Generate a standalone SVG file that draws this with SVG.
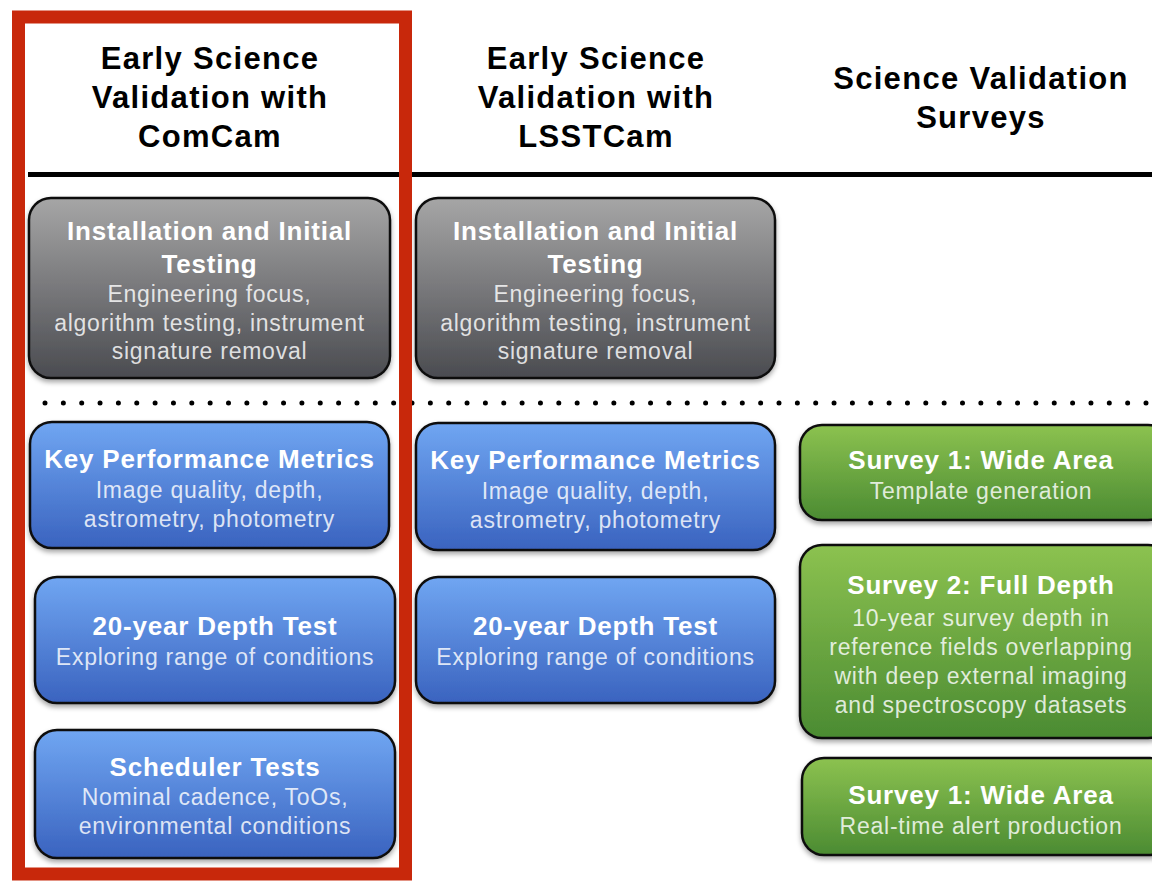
<svg xmlns="http://www.w3.org/2000/svg" width="1152" height="881" viewBox="0 0 1152 881">
<defs>
<linearGradient id="gGray" x1="0" y1="0" x2="0" y2="1"><stop offset="0" stop-color="#a6a6a6"/><stop offset="1" stop-color="#4a4b50"/></linearGradient>
<linearGradient id="gBlue" x1="0" y1="0" x2="0" y2="1"><stop offset="0" stop-color="#70a6f2"/><stop offset="1" stop-color="#3a63bf"/></linearGradient>
<linearGradient id="gGreen" x1="0" y1="0" x2="0" y2="1"><stop offset="0" stop-color="#8cc250"/><stop offset="1" stop-color="#4b8b32"/></linearGradient>
<filter id="sh" x="-10%" y="-10%" width="120%" height="130%"><feDropShadow dx="0" dy="3" stdDeviation="2.5" flood-color="#000" flood-opacity="0.35"/></filter>
</defs>
<style>
.hdr{font-family:"Liberation Sans",Arial,sans-serif;font-weight:bold;font-size:31px;letter-spacing:1.3px;fill:#000;text-anchor:middle}
.box{stroke:#111;stroke-width:2.5;filter:url(#sh)}
.t{font-family:"Liberation Sans",Arial,sans-serif;font-weight:bold;font-size:26px;letter-spacing:0.8px;fill:#fff;text-anchor:middle}
.s{font-family:"Liberation Sans",Arial,sans-serif;font-size:23px;letter-spacing:0.75px;fill:#fff;fill-opacity:0.82;text-anchor:middle}
</style>
<rect width="1152" height="881" fill="#fff"/>
<g id="headers">
<text class="hdr" x="210" y="69">Early Science</text>
<text class="hdr" x="210" y="108">Validation with</text>
<text class="hdr" x="210" y="147">ComCam</text>
<text class="hdr" x="596" y="69">Early Science</text>
<text class="hdr" x="596" y="108">Validation with</text>
<text class="hdr" x="596" y="147">LSSTCam</text>
<text class="hdr" x="981" y="89">Science Validation</text>
<text class="hdr" x="981" y="128">Surveys</text>
</g>
<g id="dividers">
<line x1="28" y1="174.5" x2="1152" y2="174.5" stroke="#000" stroke-width="5"/>
<line x1="45" y1="403" x2="1150" y2="403" stroke="#000" stroke-width="5" stroke-linecap="round" stroke-dasharray="0 18.35"/>
</g>
<g id="c1-install">
<rect class="box" x="29" y="198" width="361" height="180" rx="22" fill="url(#gGray)"/>
<text class="t" x="209.5" y="240">Installation and Initial</text>
<text class="t" x="209.5" y="273">Testing</text>
<text class="s" x="209.5" y="302">Engineering focus,</text>
<text class="s" x="209.5" y="331">algorithm testing, instrument</text>
<text class="s" x="209.5" y="359">signature removal</text>
</g>
<g id="c2-install">
<rect class="box" x="416" y="198" width="359" height="180" rx="22" fill="url(#gGray)"/>
<text class="t" x="595.5" y="240">Installation and Initial</text>
<text class="t" x="595.5" y="273">Testing</text>
<text class="s" x="595.5" y="302">Engineering focus,</text>
<text class="s" x="595.5" y="331">algorithm testing, instrument</text>
<text class="s" x="595.5" y="359">signature removal</text>
</g>
<g id="c1-kpm">
<rect class="box" x="30" y="422" width="359" height="126" rx="22" fill="url(#gBlue)"/>
<text class="t" x="209.5" y="468">Key Performance Metrics</text>
<text class="s" x="209.5" y="498">Image quality, depth,</text>
<text class="s" x="209.5" y="527">astrometry, photometry</text>
</g>
<g id="c2-kpm">
<rect class="box" x="416" y="423" width="359" height="127" rx="22" fill="url(#gBlue)"/>
<text class="t" x="595.5" y="469">Key Performance Metrics</text>
<text class="s" x="595.5" y="499">Image quality, depth,</text>
<text class="s" x="595.5" y="528">astrometry, photometry</text>
</g>
<g id="c1-depth">
<rect class="box" x="35" y="577" width="360" height="126" rx="22" fill="url(#gBlue)"/>
<text class="t" x="215" y="635">20-year Depth Test</text>
<text class="s" x="215" y="665">Exploring range of conditions</text>
</g>
<g id="c2-depth">
<rect class="box" x="416" y="577" width="359" height="126" rx="22" fill="url(#gBlue)"/>
<text class="t" x="595.5" y="635">20-year Depth Test</text>
<text class="s" x="595.5" y="665">Exploring range of conditions</text>
</g>
<g id="c1-sched">
<rect class="box" x="35" y="730" width="360" height="128" rx="22" fill="url(#gBlue)"/>
<text class="t" x="215" y="776">Scheduler Tests</text>
<text class="s" x="215" y="805">Nominal cadence, ToOs,</text>
<text class="s" x="215" y="834">environmental conditions</text>
</g>
<g id="s1-wide">
<rect class="box" x="800" y="425" width="370" height="95" rx="22" fill="url(#gGreen)"/>
<text class="t" x="981" y="469">Survey 1: Wide Area</text>
<text class="s" x="981" y="499">Template generation</text>
</g>
<g id="s2-full">
<rect class="box" x="800" y="545" width="370" height="193" rx="22" fill="url(#gGreen)"/>
<text class="t" x="981" y="594">Survey 2: Full Depth</text>
<text class="s" x="981" y="626">10-year survey depth in</text>
<text class="s" x="981" y="655">reference fields overlapping</text>
<text class="s" x="981" y="684">with deep external imaging</text>
<text class="s" x="981" y="713">and spectroscopy datasets</text>
</g>
<g id="s1-alert">
<rect class="box" x="802" y="758" width="370" height="97" rx="22" fill="url(#gGreen)"/>
<text class="t" x="981" y="804">Survey 1: Wide Area</text>
<text class="s" x="981" y="834">Real-time alert production</text>
</g>
<g id="highlight">
<rect x="18.5" y="17" width="387" height="857" fill="none" stroke="#c8280b" stroke-width="13"/>
</g>
</svg>
